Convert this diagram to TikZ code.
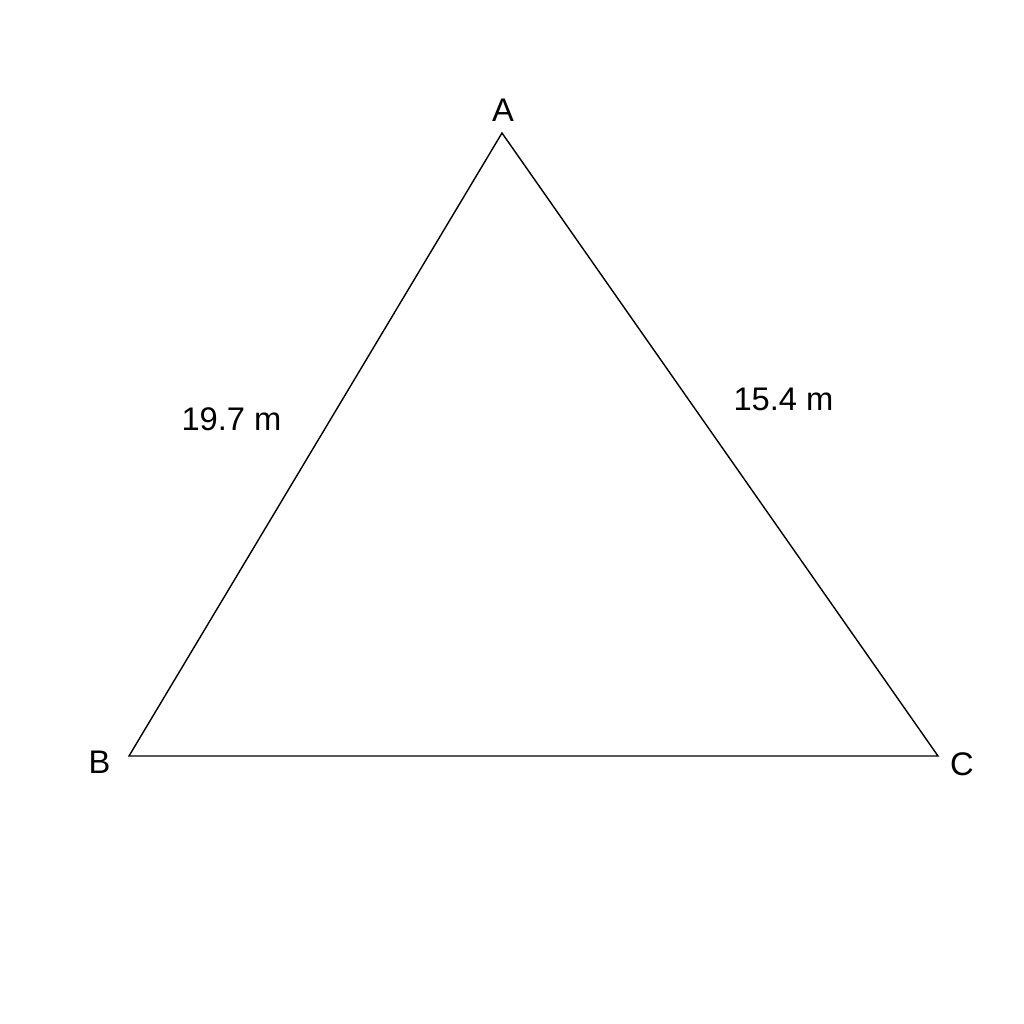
\documentclass[tikz,border=0pt]{standalone}
\usepackage{fontspec}
\setmainfont{Liberation Sans}
\begin{document}
\begin{tikzpicture}[thin,line join=miter]
  \fontsize{9.3}{11}\selectfont
  \useasboundingbox (0,0) rectangle (10.24,10.24);
  \coordinate (A) at (5.02,8.91);
  \coordinate (B) at (1.29,2.68);
  \coordinate (C) at (9.38,2.68);
  \draw (B) -- (A) -- (C) -- cycle;

  \node (labA) at (5.03,9.135) {A};
  \node (labB) at (0.995,2.62) {B};
  \node (labC) at (9.62,2.60) {C};
  \node (labAB) at (2.315,6.045) {19.7 m};
  \node (labAC) at (7.835,6.25) {15.4 m};
\end{tikzpicture}
\end{document}
